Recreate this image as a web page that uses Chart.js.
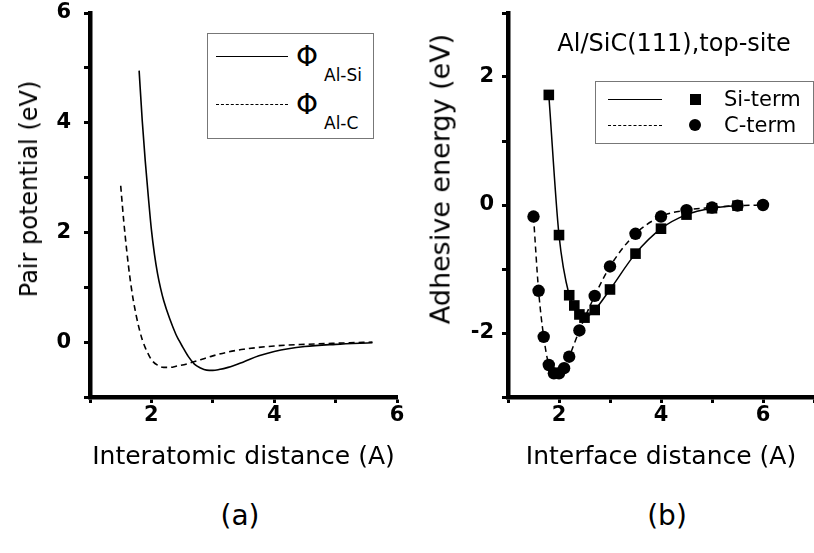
<!DOCTYPE html>
<html>
<head>
<meta charset="utf-8">
<script src="https://cdn.jsdelivr.net/npm/chart.js@4.4.1/dist/chart.umd.min.js"></script>
<style>
    body { margin: 0; background: #fff; font-family: "DejaVu Sans", sans-serif; color: #000; }
    #wrap { position: relative; width: 814px; height: 553px; overflow: hidden; }
    .box { position: absolute; }
    .leg { position: absolute; border: 1.5px solid #777; background: #fff; }
    .ln { position: absolute; height: 0; border-top: 1.6px solid #000; }
    .ln.dash { border-top-style: dashed; }
    .phi { position: absolute; font-size: 28px; line-height: 28px; }
    .sub { position: absolute; font-size: 17px; line-height: 17px; }
    .txt { position: absolute; font-size: 21px; line-height: 21px; white-space: nowrap; }
    .cap { position: absolute; font-size: 28px; line-height: 28px; width: 80px; text-align: center; }
    .ytitle { position: absolute; white-space: nowrap; transform: translate(-50%, -50%) rotate(-90deg); }
</style>
</head>
<body>
<div id="wrap">
    <div class="box" style="left:0;top:0;width:410px;height:472px"><canvas id="chartA"></canvas></div>
    <div class="box" style="left:410px;top:0;width:414px;height:472px"><canvas id="chartB"></canvas></div>

    <div class="ytitle" style="left:29px;top:189px;font-size:24px">Pair potential (eV)</div>
    <div class="ytitle" style="left:440px;top:179px;font-size:27px">Adhesive energy (eV)</div>

    <div class="leg" style="left:207px;top:33px;width:165px;height:104px">
        <div class="ln" style="left:8px;top:22px;width:72px"></div>
        <div class="phi" style="left:88px;top:9px">&Phi;</div>
        <div class="sub" style="left:116px;top:33px">Al-Si</div>
        <div class="ln dash" style="left:8px;top:70px;width:72px"></div>
        <div class="phi" style="left:88px;top:57px">&Phi;</div>
        <div class="sub" style="left:116px;top:81px">Al-C</div>
    </div>

    <div class="txt" style="left:674px;top:31px;font-size:24px;line-height:24px;transform:translateX(-50%)">Al/SiC(111),top-site</div>

    <div class="leg" style="left:595px;top:81px;width:217px;height:61px">
        <div class="ln" style="left:12px;top:17px;width:54px"></div>
        <div style="position:absolute;left:94px;top:12px;width:11px;height:11px;background:#000"></div>
        <div class="txt" style="left:128px;top:7px">Si-term</div>
        <div class="ln dash" style="left:12px;top:43px;width:54px"></div>
        <div style="position:absolute;left:93px;top:37px;width:12px;height:12px;border-radius:50%;background:#000"></div>
        <div class="txt" style="left:128px;top:33px">C-term</div>
    </div>

    <div class="cap" style="left:200px;top:502px">(a)</div>
    <div class="cap" style="left:627px;top:502px">(b)</div>
</div>
<script>
// (a) pair potentials
var alSiX = [1.8, 1.85, 1.9, 1.95, 2.0, 2.05, 2.1, 2.15, 2.2, 2.3, 2.4, 2.45, 2.5, 2.6, 2.7, 2.8, 2.9, 3.0, 3.1, 3.25, 3.5, 3.75, 4.0, 4.5, 5.0, 5.6];
var alSiY = [4.95, 4.05, 3.3, 2.65, 2.05, 1.6, 1.25, 0.98, 0.76, 0.42, 0.14, 0.03, -0.07, -0.26, -0.4, -0.47, -0.51, -0.515, -0.5, -0.46, -0.36, -0.25, -0.17, -0.08, -0.04, -0.01];
var alCX = [1.5, 1.55, 1.6, 1.65, 1.7, 1.75, 1.8, 1.85, 1.9, 1.95, 2.0, 2.1, 2.2, 2.3, 2.4, 2.6, 2.8, 3.0, 3.25, 3.5, 4.0, 4.5, 5.0, 5.6];
var alCY = [2.85, 2.2, 1.65, 1.18, 0.8, 0.5, 0.25, 0.05, -0.1, -0.22, -0.32, -0.42, -0.46, -0.46, -0.44, -0.39, -0.32, -0.25, -0.18, -0.13, -0.07, -0.04, -0.02, 0.0];

// (b) adhesive energy
var siTermX = [1.8, 2.0, 2.2, 2.3, 2.4, 2.5, 2.7, 3.0, 3.5, 4.0, 4.5, 5.0, 5.5];
var siTermY = [1.72, -0.47, -1.41, -1.57, -1.71, -1.76, -1.64, -1.32, -0.76, -0.37, -0.15, -0.05, -0.01];
var cTermX = [1.5, 1.6, 1.7, 1.8, 1.9, 2.0, 2.1, 2.2, 2.4, 2.7, 3.0, 3.5, 4.0, 4.5, 5.0, 5.5, 6.0];
var cTermY = [-0.18, -1.34, -2.06, -2.5, -2.63, -2.63, -2.55, -2.37, -1.96, -1.42, -0.96, -0.45, -0.18, -0.08, -0.04, -0.01, 0.0];

function pts(xs, ys) {
    return xs.map(function (x, i) { return { x: x, y: ys[i] }; });
}

function evenOnly(v) { return v % 2 === 0 ? v : ''; }

function axes(yMin, yMax, xMax, xTitle, yPad, yWidth) {
    return {
        x: {
            type: 'linear', min: 1, max: xMax,
            border: { color: '#000', width: 4.5 },
            grid: { drawOnChartArea: false, color: '#000', tickLength: 6, tickWidth: 3 },
            ticks: { stepSize: 1, color: '#000', font: { family: 'DejaVu Sans', size: 21, weight: 'bold' }, padding: 0, callback: evenOnly, maxRotation: 0 },
            title: { display: true, text: xTitle, color: '#000', font: { family: 'DejaVu Sans', size: 25 }, padding: 0 },
            afterFit: function (s) { s.height = 75; s.paddingLeft = 0; s.paddingRight = 0; }
        },
        y: {
            type: 'linear', min: yMin, max: yMax,
            border: { color: '#000', width: 4.5 },
            grid: { drawOnChartArea: false, color: '#000', tickLength: 6, tickWidth: 3 },
            ticks: { stepSize: 1, color: '#000', font: { family: 'DejaVu Sans', size: 21, weight: 'bold' }, padding: yPad, callback: evenOnly },
            afterFit: function (s) { s.width = yWidth; s.paddingTop = 0; s.paddingBottom = 0; }
        }
    };
}

Chart.defaults.animation = false;

new Chart(document.getElementById('chartA'), {
    type: 'scatter',
    data: {
        datasets: [
            { data: pts(alSiX, alSiY), showLine: true, borderColor: '#000', borderWidth: 1.6, pointRadius: 0, cubicInterpolationMode: 'monotone' },
            { data: pts(alCX, alCY), showLine: true, borderColor: '#000', borderWidth: 1.6, borderDash: [6, 4], pointRadius: 0, cubicInterpolationMode: 'monotone' }
        ]
    },
    options: {
        responsive: true,
        maintainAspectRatio: false,
        layout: { padding: { top: 13, right: 13, left: 0, bottom: 0 } },
        plugins: { legend: { display: false }, tooltip: { enabled: false } },
        scales: axes(-1, 6, 6, 'Interatomic distance (A)', 13, 90)
    }
});

new Chart(document.getElementById('chartB'), {
    type: 'scatter',
    data: {
        datasets: [
            { data: pts(siTermX, siTermY), showLine: true, borderColor: '#000', borderWidth: 1.5, pointStyle: 'rect', pointRadius: 7.5, pointBackgroundColor: '#000', pointBorderWidth: 0, cubicInterpolationMode: 'monotone' },
            { data: pts(cTermX, cTermY), showLine: true, borderColor: '#000', borderWidth: 1.5, borderDash: [6, 4], pointStyle: 'circle', pointRadius: 6.2, pointBackgroundColor: '#000', pointBorderWidth: 0, cubicInterpolationMode: 'monotone' }
        ]
    },
    options: {
        responsive: true,
        maintainAspectRatio: false,
        layout: { padding: { top: 13, right: 10, left: 0, bottom: 0 } },
        plugins: { legend: { display: false }, tooltip: { enabled: false } },
        scales: axes(-3, 3, 7, 'Interface distance (A)', 8, 98)
    }
});
</script>
</body>
</html>
